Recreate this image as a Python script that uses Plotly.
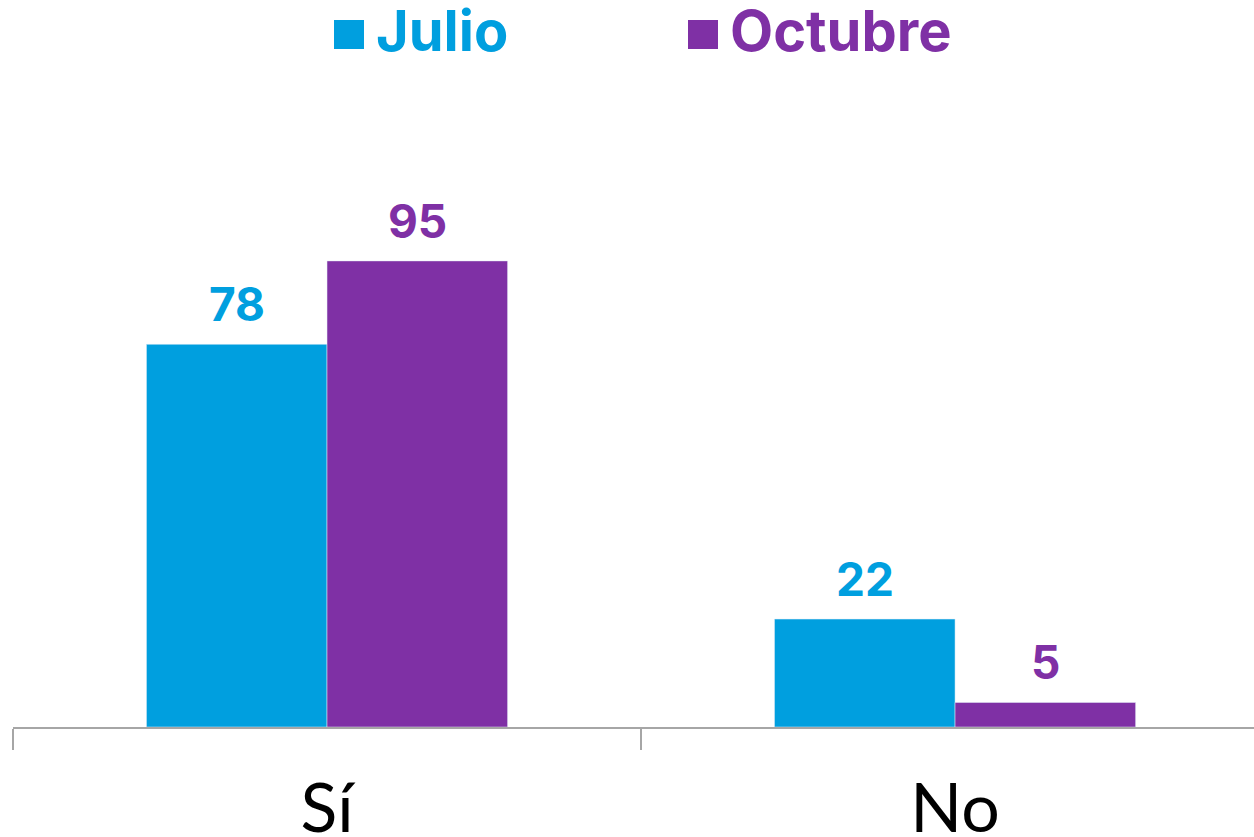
import plotly.graph_objects as go

categories = ["Sí", "No"]
julio = [78, 22]
octubre = [95, 5]
series_names = ["Julio", "Octubre"]

blue = "#009FDF"
purple = "#7F30A5"
bold_font = "Inter"

# plot area in page pixels
plot_left, plot_top, plot_w, plot_h = 13, 100, 1241, 627

fig = go.Figure()
for vals, name, color, shift in [(julio, series_names[0], blue, -90),
                                 (octubre, series_names[1], purple, 90)]:
    fig.add_trace(go.Bar(x=categories, y=vals, name=name, marker_color=color,
                         showlegend=False))
    # value labels sitting a bit above each bar
    for cat, v in zip(categories, vals):
        fig.add_annotation(x=cat, y=v, text=str(v), showarrow=False,
                           xshift=shift, yshift=10, yanchor="bottom",
                           font=dict(size=46, color=color, family=bold_font, weight="bold"))

# legend drawn by hand: big squares + coloured bold labels
legend_items = [(series_names[0], blue, 334), (series_names[1], purple, 688)]
for name, color, x0 in legend_items:
    fig.add_shape(type="rect", xref="paper", yref="paper",
                  x0=(x0 - plot_left) / plot_w, x1=(x0 + 30 - plot_left) / plot_w,
                  y0=1 + (plot_top - 49) / plot_h, y1=1 + (plot_top - 20) / plot_h,
                  fillcolor=color, line_width=0)
    fig.add_annotation(text=name, xref="paper", yref="paper",
                       x=(x0 + 40 - plot_left) / plot_w, y=1 + (plot_top - 31) / plot_h,
                       xanchor="left", yanchor="middle", showarrow=False,
                       font=dict(size=56, color=color, family=bold_font, weight="bold"))

fig.update_layout(
    width=1254, height=837,
    margin=dict(l=13, r=0, t=100, b=110),
    barmode="group", bargap=0.425, bargroupgap=0,
    plot_bgcolor="white", paper_bgcolor="white",
    xaxis=dict(range=[-0.5, 1.476], showline=True, linecolor="#A6A6A6", linewidth=1.5,
               ticks="outside", tickson="boundaries", ticklen=21, tickcolor="#A6A6A6",
               tickwidth=1.5, ticklabelstandoff=22, automargin=False,
               tickfont=dict(size=68, color="black", family="Lato")),
    yaxis=dict(range=[0, 127.8], visible=False, showgrid=False),
)

# drop the default 8px page margin so the figure fills the window exactly
fig.write_html("out.html", config={"displayModeBar": False},
               post_script="document.body.style.margin='0';")
